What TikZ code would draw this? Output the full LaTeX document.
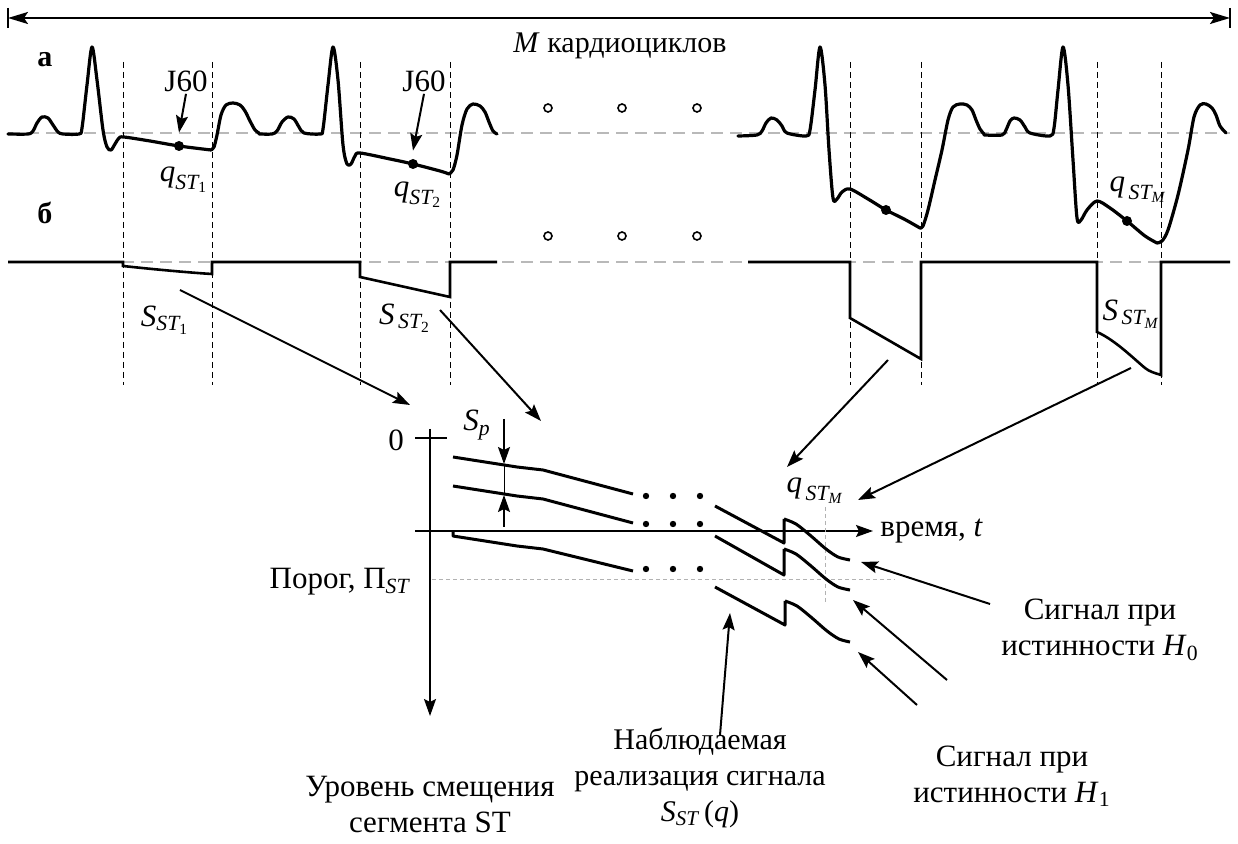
\documentclass[tikz,border=0pt]{standalone}
\usepackage{fontspec}
\setmainfont{Liberation Serif}
\usepackage{amsmath}
\usetikzlibrary{arrows.meta}
\newcommand\mi[1]{\textit{#1}}
\begin{document}
\begin{tikzpicture}[x=0.5pt,y=-0.5pt,
  font=\fontsize{15.5}{18}\selectfont,
  ecg/.style={line width=1.6pt, line join=round, line cap=round},
  zeroline/.style={gray!55, line width=1.4pt, dash pattern=on 6pt off 3.5pt},
  guide/.style={line width=0.5pt, dash pattern=on 3pt off 2pt},
  thresh/.style={gray!60, line width=0.5pt, dash pattern=on 2pt off 1.5pt},
  sig/.style={line width=1.3pt, line join=miter},
  lvl/.style={line width=1.5pt, line join=round},
  conn/.style={line width=1pt, -{Stealth[length=8.5pt,width=6pt,inset=1.5pt]}},
  axis/.style={line width=1pt, -{Stealth[length=8.5pt,width=6pt,inset=1.5pt]}},
  ring/.style={circle, draw, line width=0.8pt, inner sep=0pt, minimum size=4pt},
  bead/.style={circle, fill, inner sep=0pt, minimum size=5pt},
  pt/.style={circle, fill, inner sep=0pt, minimum size=3.2pt},
  lbl/.style={inner sep=1pt, align=center}]
\useasboundingbox (0,0) rectangle (1238,844);

% ---- total span of M cycles
\coordinate (spanL) at (8,18);
\coordinate (spanR) at (1230,18);
\draw[line width=0.6pt] (8,8) -- (8,28);
\draw[line width=0.6pt] (1230,8) -- (1230,28);
\draw[line width=1pt, {Stealth[length=10pt,width=6pt,inset=2pt]}-{Stealth[length=10pt,width=6pt,inset=2pt]}] (spanL) -- (spanR);
\node[lbl, font=\fontsize{15}{18}\selectfont] (mlab) at (620,46) {\mi{M} кардиоциклов};

\node[lbl, font=\fontsize{15}{18}\selectfont\bfseries] (rowa) at (45,60) {а};
\node[lbl, font=\fontsize{15}{18}\selectfont\bfseries] (rowb) at (45,213) {б};

% ---- zero levels
\draw[zeroline] (8,133) -- (1230,133);
\draw[zeroline] (8,262) -- (1230,262);

% ---- ST window boundaries
\foreach \xx in {123,212,360,450,850,921,1097,1161}
  \draw[guide] (\xx,62) -- (\xx,385);

% ---- ECG, row a
\draw[ecg] plot[smooth, tension=0.5] coordinates {
 (8,134) (28,134) (33,131) (37,123) (42,117) (48,118) (53,125) (58,132) (63,134)
 (79,134) (82,128) (87,85) (92,47) (97,80) (103,130) (107,147) (111,150) (115,144)
 (119,138) (124,137) (150,141) (179,146) (211,150)};
\draw[ecg] plot[smooth, tension=0.5] coordinates {
 (211,150) (214,147) (217,135) (221,115) (226,105) (233,103) (240,105) (245,111)
 (250,121) (255,130) (259,133)};
\draw[ecg] plot[smooth, tension=0.5] coordinates {
 (259,134) (272,134) (277,131) (282,122) (288,117) (294,119) (299,127) (304,133)
 (320,134) (323,129) (328,85) (333,47) (338,80) (343,145) (347,164) (351,164)
 (355,156) (360,153) (390,159) (413,164) (440,171) (449,174)};
\draw[ecg] plot[smooth, tension=0.5] coordinates {
 (449,174) (453,170) (457,155) (462,125) (467,109) (473,104) (480,106) (485,112)
 (489,122) (493,131) (497,134)};
\draw[ecg] plot[smooth, tension=0.5] coordinates {
 (738,136) (757,135) (762,131) (766,123) (771,118) (777,120) (782,126) (787,133)
 (806,136) (810,130) (815,90) (820,47) (825,85) (829,150) (833,198) (837,199)
 (842,192) (850,189) (868,199) (886,210) (904,219) (920,228)};
\draw[ecg] plot[smooth, tension=0.5] coordinates {
 (920,228) (923,226) (928,210) (935,180) (942,150) (948,120) (953,107) (960,104)
 (967,105) (972,110) (976,120) (980,129) (984,134)};
\draw[ecg] plot[smooth, tension=0.5] coordinates {
 (984,135) (1002,135) (1006,130) (1010,121) (1014,118) (1020,120) (1025,127)
 (1030,133) (1050,136) (1054,128) (1058,90) (1063,47) (1068,85) (1073,160)
 (1077,218) (1081,220) (1087,210) (1097,201) (1110,208) (1127,221) (1145,236)
 (1157,243)};
\draw[ecg] plot[smooth, tension=0.5] coordinates {
 (1157,243) (1162,241) (1168,230) (1178,195) (1188,150) (1194,117) (1200,105)
 (1206,104) (1212,108) (1216,115) (1220,126) (1226,133)};

% J60 points on the ST segments
\node[bead] (j1) at (179,146) {};
\node[bead] (j2) at (413,164) {};
\node[bead] (j3) at (886,210) {};
\node[bead] (j4) at (1127,221) {};
\node[lbl] (j60a) at (186,81) {J60};
\node[lbl] (j60b) at (424,81) {J60};
\draw[conn] (j60a.south) -- ([yshift=4pt]j1.north);
\draw[conn] (j60b.south) -- ([yshift=4pt]j2.north);
\node[lbl] (q1) at (184,180) {$\mi{q}_{\mi{ST}_{\textup{1}}}$};
\node[lbl] (q2) at (418,195) {$\mi{q}_{\mi{ST}_{\textup{2}}}$};
\node[lbl] (qm) at (1138,190) {$\mi{q}_{\,\mi{ST}_{\mi{M}}}$};

% skipped cycles
\foreach \xx in {548,622,697} {
  \node[ring] at (\xx,108) {};
  \node[ring] at (\xx,236) {};
}

% ---- ST deviation signal, row b
\draw[sig] (8,262) -- (123,262) -- (123,266) .. controls (160,270) and (195,273) .. (212,274) -- (212,262)
  -- (360,262) -- (360,277) -- (450,297) -- (450,262) -- (497,262);
\draw[sig] (748,262) -- (850,262) -- (850,318) -- (921,359) -- (921,262) -- (1097,262) -- (1097,332)
  .. controls (1115,340) and (1133,358) .. (1145,368) .. controls (1150,372) and (1155,373) .. (1161,375)
  -- (1161,262) -- (1230,262);
\node[lbl] (s1) at (165,320) {$\mi{S}_{\mi{ST}_{\textup{1}}}$};
\node[lbl] (s2) at (405,318) {$\mi{S}_{\,\mi{ST}_{\textup{2}}}$};
\node[lbl] (sm) at (1131,314) {$\mi{S}_{\,\mi{ST}_{\mi{M}}}$};

% ---- lower graph: axes
\coordinate (vtop) at (430,429);
\coordinate (vend) at (430,716);
\coordinate (hstart) at (415,531);
\coordinate (hend) at (873,531);
\draw[axis] (vtop) -- (vend);
\draw[axis] (hstart) -- (hend);
\draw[line width=1pt] (415,438) -- (447,438);
\node[lbl] (zero) at (396,440) {0};
\node[lbl, anchor=west] (tlab) at (878,531) {время, \mi{t}};

% threshold
\draw[thresh] (432,580) -- (895,580);
\draw[thresh] (825,507) -- (825,602);
\node[lbl, anchor=east] (porog) at (412,582) {Порог, Π$_{\mi{ST}}$};
\node[lbl] (qml) at (815,491) {$\mi{q}_{\,\mi{ST}_{\mi{M}}}$};

% S_p gap marker
\coordinate (sp1) at (504,419);
\coordinate (sp2) at (504,464);
\coordinate (sp3) at (504,495);
\coordinate (sp4) at (504,527);
\draw[conn] (sp1) -- (sp2);
\draw[conn] (sp4) -- (sp3);
\draw[line width=0.5pt] (sp2) -- (sp3);
\node[lbl] (splab) at (477,425) {$\mi{S}_{\mi{p}}$};

% level curves, first part
\draw[lvl] (453,457) -- (517,467) -- (543,470) -- (633,494);
\draw[lvl] (453,486) -- (517,496) -- (543,499) -- (633,523);
\draw[lvl] (453,531) -- (453,536) -- (517,546) -- (543,549) -- (633,571);
\foreach \xx in {646,673,700} {
  \node[pt] at (\xx,496) {};
  \node[pt] at (\xx,524) {};
  \node[pt] at (\xx,569) {};
}
% level curves, last cycles
\draw[lvl] (715,506) -- (784,543) -- (784,519) plot[smooth, tension=0.5] coordinates {
  (784,519) (796,524) (811,536) (826,549) (838,557) (850,560)};
\draw[lvl] (715,536) -- (784,575) -- (784,549) plot[smooth, tension=0.5] coordinates {
  (784,549) (796,554) (811,566) (826,579) (838,587) (850,590)};
\draw[lvl] (715,587) -- (785,625) -- (785,601) plot[smooth, tension=0.5] coordinates {
  (785,601) (797,606) (812,618) (827,631) (839,639) (850,642)};

% ---- connectors from row b to the levels
\coordinate (b1) at (180,290);
\coordinate (c1) at (410,405);
\coordinate (b2) at (440,310);
\coordinate (c2) at (541,421);
\coordinate (b3) at (888,360);
\coordinate (c3) at (787,467);
\coordinate (b4) at (1131,368);
\coordinate (c4) at (858,500);
\draw[conn] (b1) -- (c1);
\draw[conn] (b2) -- (c2);
\draw[conn] (b3) -- (c3);
\draw[conn] (b4) -- (c4);

% ---- captions
\node[lbl] (h0) at (1100,630) {Сигнал при\\истинности \mi{H}$_{\textup{0}}$};
\node[lbl] (h1) at (1012,776) {Сигнал при\\истинности \mi{H}$_{\textup{1}}$};
\node[lbl, font=\fontsize{15}{18}\selectfont] (obs) at (700,778) {Наблюдаемая\\реализация сигнала\\\mi{S}$_{\mi{ST}}$\,(\mi{q})};
\node[lbl] (lev) at (430,805) {Уровень смещения\\сегмента ST};

\coordinate (e0) at (861,562);
\coordinate (e1) at (853,600);
\coordinate (e2) at (858,652);
\coordinate (e3) at (730,613);
\coordinate (f0) at (990,604);
\coordinate (f1) at (947,680);
\coordinate (f2) at (917,705);
\coordinate (f3) at (720,735);
\draw[conn] (f0) -- (e0);
\draw[conn] (f1) -- (e1);
\draw[conn] (f2) -- (e2);
\draw[conn] (f3) -- (e3);
\end{tikzpicture}
\end{document}
